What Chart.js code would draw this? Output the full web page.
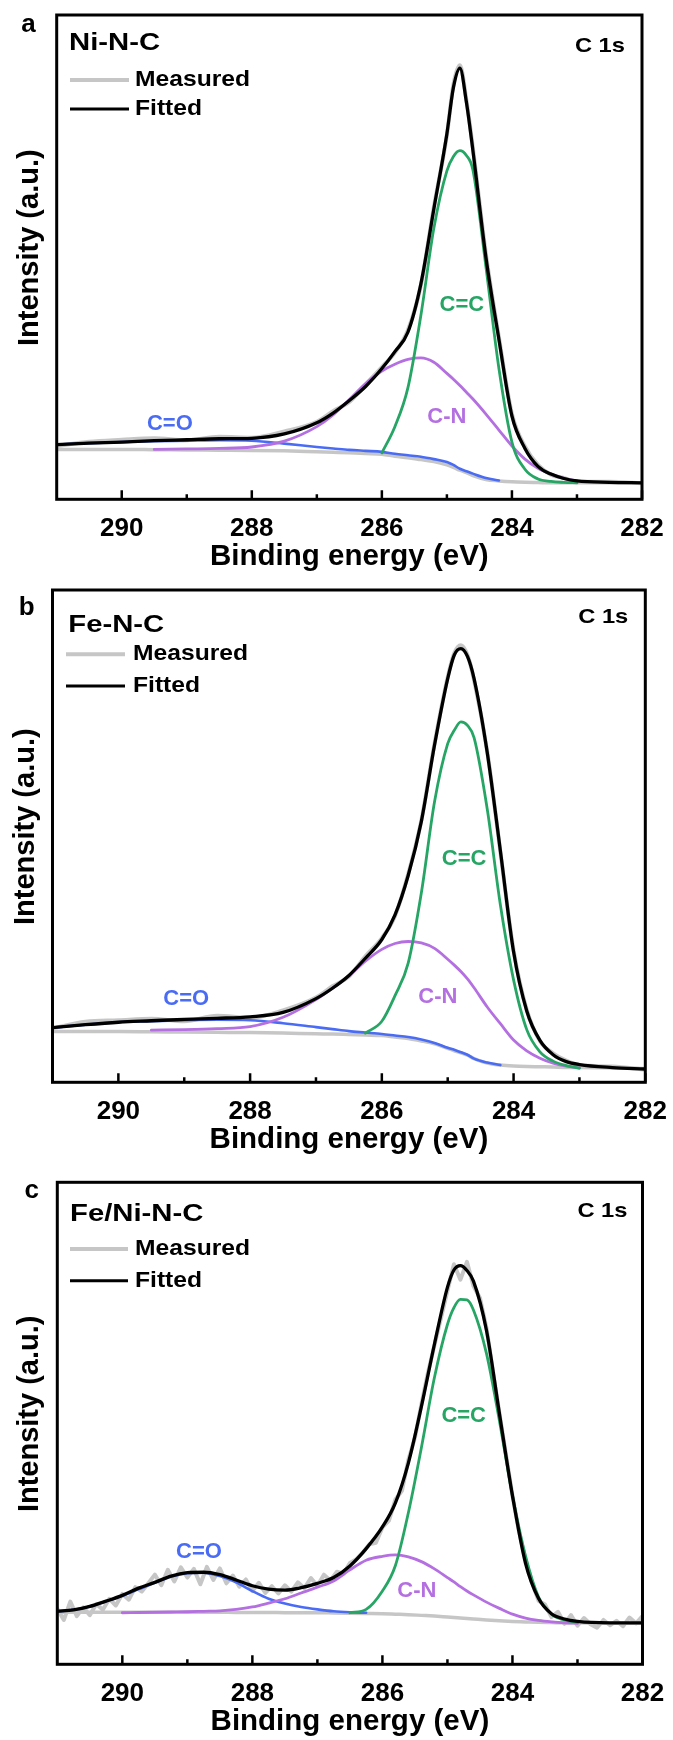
<!DOCTYPE html>
<html>
<head>
<meta charset="utf-8">
<script src="https://cdn.jsdelivr.net/npm/chart.js@4.4.1/dist/chart.umd.min.js"></script>
<style>
  html, body { margin: 0; padding: 0; background: #fff; }
  body { width: 673px; height: 1740px; position: relative; overflow: hidden; }
  canvas { position: absolute; left: 0; }
</style>
</head>
<body>
<canvas id="chartA" width="673" height="575" style="top:0px"></canvas>
<canvas id="chartB" width="673" height="583" style="top:575px"></canvas>
<canvas id="chartC" width="673" height="582" style="top:1158px"></canvas>
<script>
// C 1s XPS spectra, three panels (a, b, c)

// x axis ticks (binding energy, eV)
const tickValues = [290, 288, 286, 284, 282];
const minorTickValues = [289, 287, 285, 283];

// sampling energies for panels a and b
const energyAB = [291, 290.5, 290, 289.5, 289, 288.5, 288, 287.5, 287, 286.75, 286.5, 286.25, 286, 285.8, 285.6, 285.4,
  285.2, 285, 284.9, 284.8, 284.7, 284.6, 284.4, 284.2, 284, 283.8, 283.6, 283.4, 283.2, 283, 282.5, 282];

// panel a: Ni-N-C
const aFitted = [11.3, 11.6, 11.8, 12.1, 12.3, 12.5, 12.6, 13.5, 15.8, 17.8, 20.4, 23.3, 27.0, 30.5, 34.5, 44.5,
  60.0, 75.5, 85.0, 89.0, 82.0, 72.0, 50.0, 33.0, 17.2, 10.5, 6.8, 5.2, 4.3, 3.8, 3.5, 3.4];
const aMeasured = [11.0, 11.9, 12.3, 12.6, 12.2, 12.9, 12.7, 14.0, 16.0, 18.2, 20.1, 23.7, 27.3, 30.3, 34.9, 44.2,
  60.4, 75.2, 85.6, 89.6, 82.4, 72.5, 50.6, 33.4, 17.6, 10.9, 7.1, 5.1, 4.4, 3.6, 3.6, 3.3];
const aCC = [null, null, null, null, null, null, null, null, null, null, null, null, 9.6, 15.0, 23.0, 38.0,
  56.0, 67.8, 70.8, 72.0, 71.0, 68.0, 48.0, 27.0, 11.8, 6.2, 4.2, 3.7, 3.5, 3.4, null, null];
const aCN = [null, null, null, 10.3, 10.4, 10.5, 10.8, 12.0, 15.0, 17.4, 20.6, 23.9, 26.5, 27.9, 28.9, 29.2,
  28.3, 26.0, 24.8, 23.5, 22.1, 20.7, 17.6, 14.3, 11.0, 8.3, 6.4, 5.2, 4.3, 3.8, null, null];
const aCO = [11.3, 11.6, 11.8, 12.0, 12.1, 12.2, 12.1, 11.5, 10.8, 10.5, 10.2, 10.0, 9.8, 9.4, 9.1, 8.8,
  8.3, 7.7, 7.1, 6.3, 5.8, 5.3, 4.4, 3.9, null, null, null, null, null, null, null, null];
const aBackground = [10.3, 10.3, 10.3, 10.25, 10.2, 10.15, 10.1, 10.0, 9.8, 9.7, 9.6, 9.45, 9.3, 8.9, 8.6, 8.2,
  7.8, 7.1, 6.6, 6.0, 5.5, 4.9, 4.1, 3.8, 3.6, 3.5, 3.45, 3.4, 3.4, 3.4, 3.4, 3.4];

// panel b: Fe-N-C
const bFitted = [11.1, 11.7, 12.2, 12.5, 12.8, 13.0, 13.3, 14.2, 17.0, 19.1, 21.7, 25.2, 29.0, 34.0, 42.0, 53.0,
  68.5, 82.0, 86.8, 88.1, 86.5, 82.0, 67.0, 47.0, 26.5, 14.5, 8.5, 5.6, 4.2, 3.6, 3.0, 2.7];
const bMeasured = [11.0, 12.3, 12.6, 12.9, 12.4, 13.5, 13.1, 14.6, 17.2, 19.5, 21.5, 25.6, 29.3, 33.8, 42.3, 53.2,
  68.8, 82.3, 87.2, 88.8, 86.8, 81.7, 67.2, 46.8, 26.8, 14.7, 8.4, 5.9, 4.4, 3.5, 3.2, 2.6];
const bCC = [null, null, null, null, null, null, null, null, null, null, null, 10.0, 12.4, 17.6, 24.2, 38.5,
  57.0, 68.8, 71.5, 73.2, 72.5, 70.0, 55.5, 36.0, 20.8, 10.7, 6.2, 4.3, 3.4, 2.9, null, null];
const bCN = [null, null, null, 10.6, 10.7, 10.9, 11.3, 13.2, 16.8, 19.1, 21.6, 24.6, 27.0, 28.2, 28.6, 28.3,
  27.2, 25.0, 23.8, 22.5, 21.0, 19.2, 15.3, 11.9, 8.6, 6.4, 4.9, 3.9, 3.3, 2.9, null, null];
const bCO = [11.1, 11.7, 12.2, 12.4, 12.6, 12.7, 12.6, 12.0, 11.2, 10.8, 10.4, 10.1, 9.8, 9.5, 9.2, 8.7,
  8.0, 7.0, 6.6, 6.1, 5.6, 4.8, 4.0, 3.5, null, null, null, null, null, null, null, null];
const bBackground = [10.3, 10.3, 10.3, 10.25, 10.2, 10.15, 10.1, 10.0, 9.85, 9.8, 9.7, 9.6, 9.5, 9.2, 8.9, 8.4,
  7.8, 6.9, 6.4, 6.0, 5.5, 4.8, 3.9, 3.5, 3.3, 3.2, 3.15, 3.1, 3.0, 3.0, 2.9, 2.8];

// panel c: Fe/Ni-N-C
const energyC = [291, 290.75, 290.5, 290.25, 290, 289.75, 289.5, 289.25, 289, 288.75, 288.5, 288.25, 288, 287.75,
  287.5, 287.25, 287, 286.75, 286.5, 286.25, 286, 285.8, 285.6, 285.4, 285.2, 285, 284.9, 284.8, 284.7, 284.6,
  284.4, 284.2, 284, 283.8, 283.6, 283.4, 283.2, 283, 282.5, 282];
const cFitted = [11.0, 11.3, 12.0, 13.1, 14.3, 15.8, 17.0, 18.3, 19.0, 19.1, 18.6, 17.5, 16.3, 15.6,
  15.4, 15.9, 16.8, 18.0, 20.4, 24.0, 28.5, 33.5, 41.8, 53.5, 66.4, 78.2, 81.8, 82.7, 81.7, 79.5,
  69.3, 52.0, 35.0, 21.0, 13.7, 10.5, 9.4, 8.9, 8.6, 8.6];
const cCC = [null, null, null, null, null, null, null, null, null, null, null, null, null, null,
  null, null, null, null, 10.7, 11.4, 15.2, 20.5, 31.5, 45.0, 59.5, 70.5, 74.0, 75.7, 75.6, 73.5,
  64.5, 50.5, 35.0, 22.5, 14.0, 10.4, 9.2, 8.7, null, null];
const cCN = [null, null, null, null, 10.7, 10.75, 10.8, 10.85, 10.9, 11.0, 11.1, 11.4, 11.9, 12.7,
  13.6, 14.8, 16.0, 17.3, 19.6, 21.6, 22.4, 22.7, 22.3, 21.3, 19.8, 18.0, 17.1, 16.1, 15.2, 14.4,
  12.9, 11.6, 10.4, 9.6, 9.1, 8.8, 8.6, 8.5, null, null];
const cCO = [11.0, 11.3, 12.0, 13.1, 14.2, 15.6, 16.9, 18.2, 18.9, 19.0, 18.3, 17.0, 15.2, 13.6,
  12.6, 11.9, 11.4, 11.0, 10.8, 10.7, null, null, null, null, null, null, null, null, null, null,
  null, null, null, null, null, null, null, null, null, null];
const cBackground = [10.8, 10.8, 10.8, 10.8, 10.8, 10.8, 10.8, 10.8, 10.8, 10.8, 10.78, 10.77, 10.75, 10.73,
  10.72, 10.7, 10.7, 10.65, 10.6, 10.55, 10.5, 10.4, 10.3, 10.15, 10.0, 9.8, 9.7, 9.6, 9.5, 9.4,
  9.2, 9.05, 8.9, 8.8, 8.7, 8.65, 8.6, 8.6, 8.5, 8.5];
const cMeasuredEnergy = [291, 290.9, 290.8, 290.7, 290.6, 290.5, 290.4, 290.3, 290.2, 290.1,
  290, 289.9, 289.8, 289.7, 289.6, 289.5, 289.4, 289.3, 289.2, 289.1,
  289, 288.9, 288.8, 288.7, 288.6, 288.5, 288.4, 288.3, 288.2, 288.1,
  288, 287.9, 287.8, 287.7, 287.6, 287.5, 287.4, 287.3, 287.2, 287.1,
  287, 286.9, 286.8, 286.7, 286.6, 286.5, 286.4, 286.3, 286.2, 286.1,
  286, 285.9, 285.8, 285.7, 285.6, 285.5, 285.4, 285.3, 285.2, 285.1,
  285, 284.9, 284.8, 284.7, 284.6, 284.5, 284.4, 284.3, 284.2, 284.1,
  284, 283.9, 283.8, 283.7, 283.6, 283.5, 283.4, 283.3, 283.2, 283.1,
  283, 282.9, 282.8, 282.7, 282.6, 282.5, 282.4, 282.3, 282.2, 282.1, 282];
const cMeasured = [11.5, 9.2, 13.0, 10.0, 11.8, 10.2, 12.5, 11.3, 13.6, 12.2,
  14.6, 13.4, 16.0, 15.1, 16.8, 18.6, 16.4, 19.6, 17.2, 20.1,
  18.0, 19.8, 16.6, 20.2, 17.5, 19.9, 16.8, 18.4, 16.1, 17.6,
  15.2, 16.9, 14.8, 16.2, 14.7, 16.4, 15.1, 17.0, 15.8, 17.9,
  16.3, 18.6, 17.4, 19.2, 18.8, 21.0, 21.8, 23.2, 24.9, 25.2,
  28.4, 29.8, 34.2, 36.0, 42.5, 47.0, 54.0, 60.5, 66.2, 71.8,
  77.5, 83.0, 79.8, 83.5, 78.5, 76.0, 69.8, 60.8, 52.0, 43.5,
  35.0, 27.6, 21.8, 17.0, 13.2, 12.4, 9.8, 10.9, 8.4, 10.2,
  8.0, 9.6, 8.3, 7.6, 9.2, 8.1, 9.0, 7.9, 9.7, 8.5, 10.0];

const FONT = '"Liberation Sans", Arial, sans-serif';
const GREEN = '#27a565';
const PURPLE = '#b470e0';
const BLUE = '#4a6cf5';
const GRAY = '#c6c6c6';

function drawText(ctx, text, x, y, size, sx, align, baseline, color) {
  ctx.save();
  ctx.font = `bold ${size}px ${FONT}`;
  ctx.fillStyle = color || '#000';
  ctx.textAlign = align;
  ctx.textBaseline = baseline;
  ctx.translate(x, y);
  ctx.scale(sx, 1);
  ctx.fillText(text, 0, 0);
  ctx.restore();
}

const panelDeco = {
  id: 'panelDeco',
  afterDraw(chart, args, d) {
    const { ctx, chartArea: a, scales: { x, y } } = chart;
    ctx.save();
    // frame
    ctx.strokeStyle = '#000';
    ctx.lineWidth = 3;
    ctx.strokeRect(a.left, a.top, a.right - a.left, a.bottom - a.top);
    // inward ticks on the bottom axis
    ctx.lineWidth = 2.5;
    ctx.beginPath();
    tickValues.forEach(v => {
      const px = x.getPixelForValue(v);
      ctx.moveTo(px, a.bottom); ctx.lineTo(px, a.bottom - 9);
    });
    minorTickValues.forEach(v => {
      const px = x.getPixelForValue(v);
      ctx.moveTo(px, a.bottom); ctx.lineTo(px, a.bottom - 5);
    });
    ctx.stroke();

    // y axis title
    ctx.save();
    ctx.translate(a.left - 27, (a.top + a.bottom) / 2 - 9.5);
    ctx.rotate(-Math.PI / 2);
    ctx.font = `bold 29px ${FONT}`;
    ctx.fillStyle = '#000';
    ctx.textAlign = 'center';
    ctx.textBaseline = 'middle';
    ctx.fillText('Intensity (a.u.)', 0, 0);
    ctx.restore();

    // panel letter, sample name, C 1s
    drawText(ctx, d.letter, a.left + d.letterX, a.top + d.letterY, 26, 1, 'center', 'alphabetic');
    drawText(ctx, d.name, a.left + d.nameX, a.top + d.nameY, 24, 1.22, 'left', 'alphabetic');
    drawText(ctx, 'C 1s', a.right + d.c1sX, a.top + d.c1sY, 21, 1.13, 'right', 'middle');

    // legend
    ctx.lineCap = 'butt';
    ctx.strokeStyle = GRAY; ctx.lineWidth = 4;
    ctx.beginPath();
    ctx.moveTo(a.left + d.legX0, a.top + d.legY1); ctx.lineTo(a.left + d.legX1, a.top + d.legY1);
    ctx.stroke();
    ctx.strokeStyle = '#000'; ctx.lineWidth = 3;
    ctx.beginPath();
    ctx.moveTo(a.left + d.legX0, a.top + d.legY2); ctx.lineTo(a.left + d.legX1, a.top + d.legY2);
    ctx.stroke();
    drawText(ctx, 'Measured', a.left + d.legTextX, a.top + d.legY1, 22, 1.12, 'left', 'middle');
    drawText(ctx, 'Fitted', a.left + d.legTextX, a.top + d.legY2, 22, 1.12, 'left', 'middle');

    // peak labels, placed in data coordinates
    d.peaks.forEach(p => {
      drawText(ctx, p.text, x.getPixelForValue(p.e), y.getPixelForValue(p.v), 22, 1, 'center', 'middle', p.color);
    });
    ctx.restore();
  }
};

const toXY = (xs, ys) => xs.map((x, i) => ({ x, y: ys[i] }));

function lineSet(label, xs, ys, color, width, smooth) {
  return {
    label,
    data: toXY(xs, ys),
    borderColor: color,
    borderWidth: width,
    pointRadius: 0,
    fill: false,
    tension: 0,
    cubicInterpolationMode: smooth ? 'monotone' : 'default',
    borderJoinStyle: 'round',
    borderCapStyle: 'round',
  };
}

function makeChart(id, p) {
  new Chart(document.getElementById(id), {
    type: 'line',
    data: {
      datasets: [
        lineSet('Fitted', p.energy, p.fitted, '#000', 3.3, true),
        lineSet('C=C', p.energy, p.cc, GREEN, 2.8, true),
        lineSet('C-N', p.energy, p.cn, PURPLE, 2.8, true),
        lineSet('C=O', p.energy, p.co, BLUE, 2.6, true),
        lineSet('Background', p.energy, p.background, GRAY, 3.5, true),
        lineSet('Measured', p.measuredEnergy, p.measured, GRAY, 4, p.smoothMeasured),
      ],
    },
    options: {
      responsive: false,
      animation: false,
      layout: { padding: { left: p.pad.left, right: p.pad.right, top: p.pad.top, bottom: 0 } },
      plugins: { legend: { display: false }, tooltip: { enabled: false }, panelDeco: p.deco },
      scales: {
        x: {
          type: 'linear', min: 282, max: 291, reverse: true,
          grid: { display: false },
          border: { display: false },
          afterBuildTicks: s => { s.ticks = tickValues.map(v => ({ value: v })); },
          afterFit: s => { s.height = 75.7; },
          ticks: { color: '#000', padding: 6, autoSkip: false, maxRotation: 0,
                   font: { family: FONT, size: 26, weight: 'bold' } },
          title: { display: true, text: 'Binding energy (eV)', color: '#000', padding: 0,
                   font: { family: FONT, size: 29.5, weight: 'bold' } },
        },
        y: { display: false, min: 0, max: 100 },
      },
    },
    plugins: [panelDeco],
  });
}

makeChart('chartA', {
  energy: energyAB, fitted: aFitted, cc: aCC, cn: aCN, co: aCO, background: aBackground,
  measuredEnergy: energyAB, measured: aMeasured, smoothMeasured: true,
  pad: { left: 56.7, right: 31, top: 15 },
  deco: { letter: 'a', letterX: -28.2, letterY: 16.7, name: 'Ni-N-C', nameX: 12.3, nameY: 35,
          c1sX: -17, c1sY: 31, legX0: 13.3, legX1: 72.3, legTextX: 78.3, legY1: 65, legY2: 94,
          peaks: [{ text: 'C=O', e: 289.26, v: 15.6, color: BLUE },
                  { text: 'C=C', e: 284.77, v: 40.2, color: GREEN },
                  { text: 'C-N', e: 285.0, v: 17.1, color: PURPLE }] },
});

makeChart('chartB', {
  energy: energyAB, fitted: bFitted, cc: bCC, cn: bCN, co: bCO, background: bBackground,
  measuredEnergy: energyAB, measured: bMeasured, smoothMeasured: true,
  pad: { left: 52.5, right: 24, top: 15 },
  deco: { letter: 'b', letterX: -25.8, letterY: 25, name: 'Fe-N-C', nameX: 15.8, nameY: 41.7,
          c1sX: -17, c1sY: 27, legX0: 13.5, legX1: 72.5, legTextX: 80.5, legY1: 64.3, legY2: 96,
          peaks: [{ text: 'C=O', e: 288.97, v: 16.9, color: BLUE },
                  { text: 'C=C', e: 284.75, v: 45.4, color: GREEN },
                  { text: 'C-N', e: 285.15, v: 17.4, color: PURPLE }] },
});

makeChart('chartC', {
  energy: energyC, fitted: cFitted, cc: cCC, cn: cCN, co: cCO, background: cBackground,
  measuredEnergy: cMeasuredEnergy, measured: cMeasured, smoothMeasured: false,
  pad: { left: 57.3, right: 30.5, top: 24.3 },
  deco: { letter: 'c', letterX: -25.6, letterY: 16, name: 'Fe/Ni-N-C', nameX: 12.7, nameY: 38.7,
          c1sX: -15, c1sY: 29, legX0: 12.7, legX1: 70.7, legTextX: 77.7, legY1: 66.7, legY2: 98.4,
          peaks: [{ text: 'C=O', e: 288.82, v: 23.4, color: BLUE },
                  { text: 'C=C', e: 284.75, v: 51.5, color: GREEN },
                  { text: 'C-N', e: 285.47, v: 15.3, color: PURPLE }] },
});
</script>
</body>
</html>
